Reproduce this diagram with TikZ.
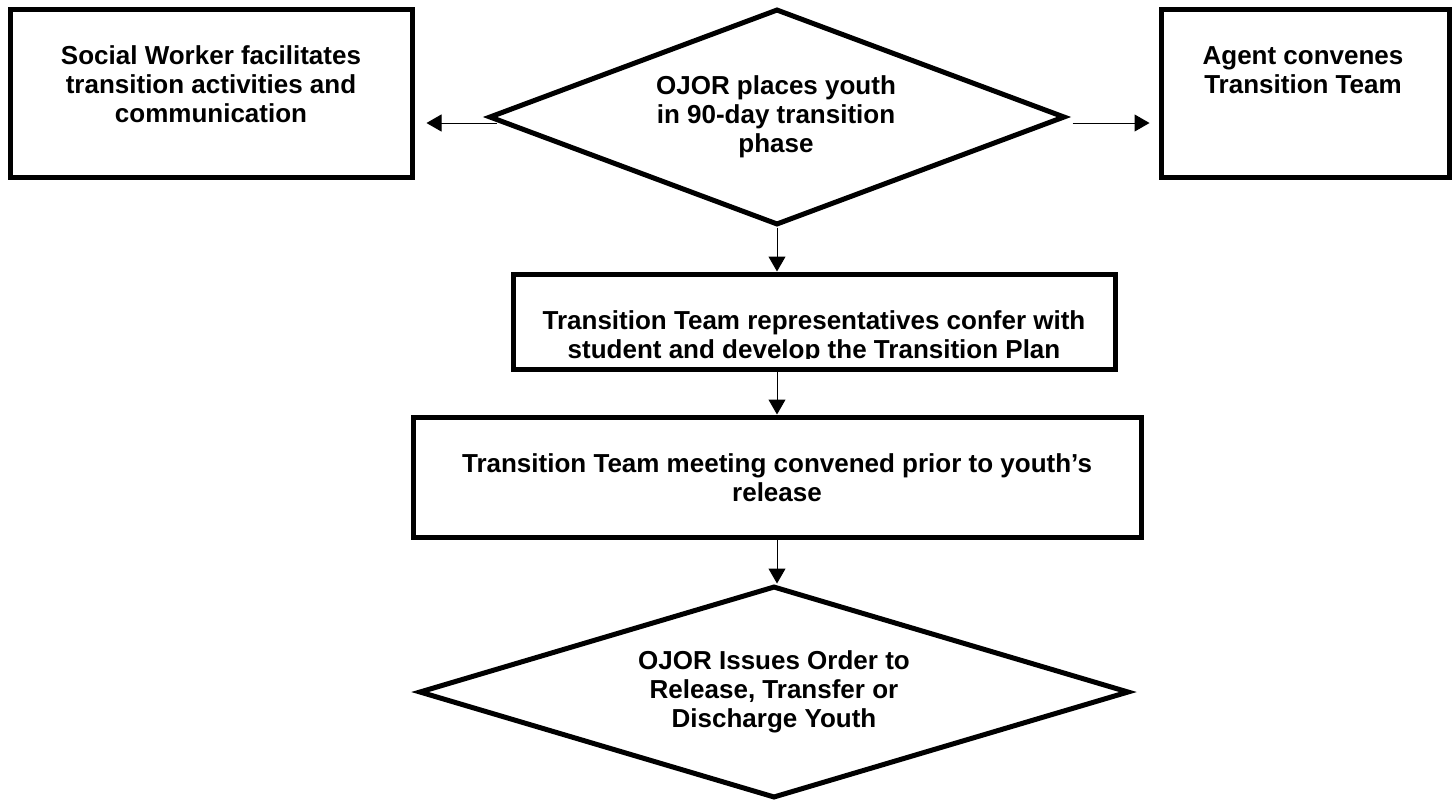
\documentclass[tikz,border=0pt]{standalone}
\usepackage{fontspec}
\setmainfont{Liberation Sans}
\usetikzlibrary{shapes.geometric,arrows.meta}

\begin{document}
\begin{tikzpicture}[x=0.5pt,y=-0.5pt,
			hop/.style={draw,line width=2.5pt,rectangle,inner sep=0pt},
			ra/.style={draw,line width=2.5pt,diamond,inner sep=0pt},
			chu/.style={font=\fontsize{13}{14.6}\selectfont\bfseries,align=center},
			mui/.style={line width=0.5pt,-{Triangle[length=7.5pt,width=8.5pt]}}]
			\useasboundingbox (0,0) rectangle (1455,804);
			% o va hinh thoi
			\node[hop,minimum width=201pt,minimum height=84pt] (swbox) at (211,93) {};
			\node[chu] (swtext) at (211,84) {Social Worker facilitates\\transition activities and\\communication};
			\node[ra,minimum width=288pt,minimum height=108pt] (place) at (777,117) {};
			\node[chu] (placetext) at (776,117) {OJOR places youth\\in 90-day transition\\phase};
			\node[hop,minimum width=144pt,minimum height=84pt] (agbox) at (1305,93) {};
			\node[chu] (agtext) at (1303,70) {Agent convenes\\Transition Team};
			\node[hop,minimum width=301pt,minimum height=47.5pt] (plan) at (814,321.5) {};
			\begin{scope}
				\clip (513,274) rectangle (1115,358);
				\node[chu] (plantext) at (814,337) {Transition Team representatives confer with\\student and develop the Transition Plan};
			\end{scope}
			\node[hop,minimum width=364pt,minimum height=60pt] (meet) at (777,477) {};
			\node[chu] (meettext) at (777,478) {Transition Team meeting convened prior to youth’s\\release};
			\node[ra,minimum width=355pt,minimum height=106pt] (order) at (774,692) {};
			\node[chu] (ordertext) at (774,692) {OJOR Issues Order to\\Release, Transfer or\\Discharge Youth};
			% mui ten
			\draw[mui] ([shift={(5pt,-3pt)}]place.west) -- ([shift={(6pt,-15pt)}]swbox.east);
			\draw[mui] ([shift={(2.5pt,-3pt)}]place.east) -- ([shift={(-4.5pt,-15pt)}]agbox.west);
			\draw[mui] (place.south) -- (place.south |- plan.north);
			\draw[mui] (plan.south -| place.south) -- (place.south |- meet.north);
			\draw[mui] (meet.south) -- (meet.south |- order.north);
		\end{tikzpicture}
\end{document}
